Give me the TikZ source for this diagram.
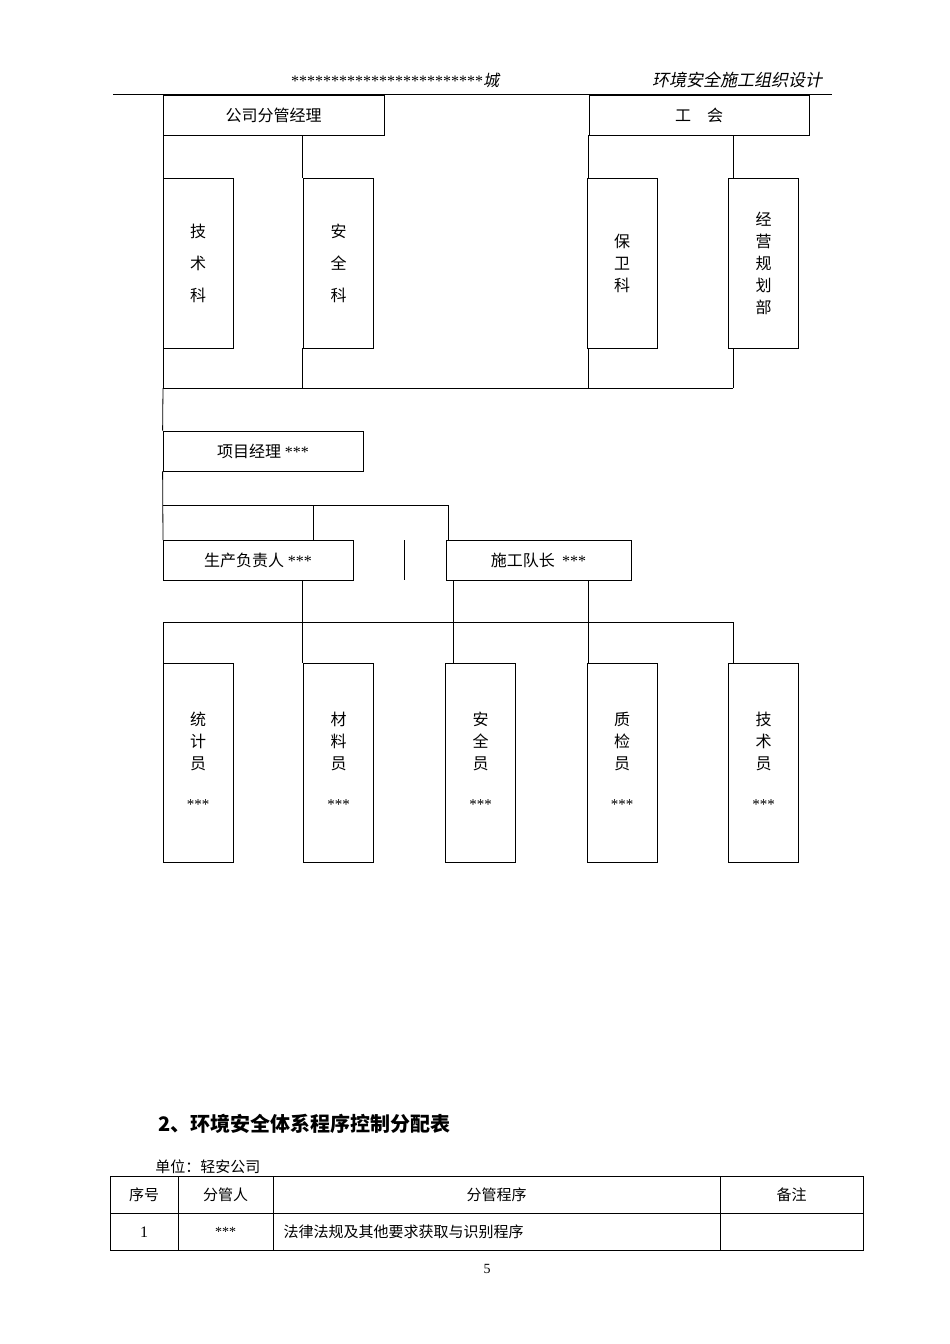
\documentclass[tikz,border=0pt]{standalone}
\usepackage{fontspec}
\setmainfont{Liberation Serif}
\newfontfamily\cjk{Noto Sans CJK SC}
\newfontfamily\cjkit{Noto Sans CJK SC}[FakeSlant=0.2]
\usetikzlibrary{positioning}
\tikzstyle{unit} = [draw,thick,inner sep=0pt,font=\cjk\fontsize{16}{22}\selectfont]
\tikzstyle{link} = [draw,thick]
\begin{document}
\begin{tikzpicture}[x=1pt,y=-1pt,line width=0.8pt]
\useasboundingbox (0,0) rectangle (950,1344);
% header
\node (stars) at (395,80) {\fontsize{16}{18}\selectfont ************************\cjkit 城};
\node (doc) at (737,80) {\cjkit\fontsize{17}{20}\selectfont 环境安全施工组织设计};
\coordinate (hl) at (113,94); \coordinate (hr) at (832,94);
\draw (hl) -- (hr);
% top level
\node[unit,minimum width=221,minimum height=40] (boss) at (273.5,115) {公司分管经理};
\node[unit,minimum width=220,minimum height=40] (union) at (699,115) {工\quad 会};
\foreach \name/\x/\txt in {tech/198/{技\\[10pt]术\\[10pt]科}, safe/338.5/{安\\[10pt]全\\[10pt]科},
                           guard/622/{保\\卫\\科}, plan/763.5/{经\\营\\规\\划\\部}}{
  \node[unit,minimum width=70,minimum height=170,align=center] (\name) at (\x,263) {\txt};
}
\foreach \x in {163,302,588,733}{
  \coordinate (a\x) at (\x,135); \coordinate (b\x) at (\x,178);
  \coordinate (c\x) at (\x,348); \coordinate (d\x) at (\x,388);
  \draw (a\x) -- (b\x); \draw (c\x) -- (d\x);
}
\draw (d163) -- (d733);
% project manager
\node[unit,minimum width=200,minimum height=40] (pm) at (263,451) {项目经理 {\rmfamily ***}};
\draw (d163) -- (pm.north west);
\coordinate (e163) at (163,505); \coordinate (e313) at (313,505); \coordinate (e448) at (448,505);
\draw (pm.south west) -- (163,540);
\draw (e163) -- (e448) -- (448,540);
\draw (e313) -- (313,540);
\node[unit,minimum width=190,minimum height=40] (prod) at (258,560) {生产负责人 {\rmfamily ***}};
\node[unit,minimum width=185,minimum height=40] (team) at (538.5,560) {施工队长\ \ {\rmfamily ***}};
\coordinate (s1) at (404,540); \coordinate (s2) at (404,580);
\draw (s1) -- (s2);
% staff
\foreach \x in {163,302,453,588,733}{
  \coordinate (f\x) at (\x,622); \coordinate (g\x) at (\x,663);
  \draw (f\x) -- (g\x);
}
\draw (302,580) -- (f302);
\draw (453,580) -- (f453);
\draw (588,580) -- (f588);
\draw (f163) -- (f733);
\foreach \name/\x/\txt in {stat/198/{统\\计\\员}, mat/338.5/{材\\料\\员}, sec/480.5/{安\\全\\员},
                           qual/622/{质\\检\\员}, eng/763.5/{技\\术\\员}}{
  \node[unit,minimum width=70,minimum height=199] (\name) at (\x,762.5) {};
  \node[font=\cjk\fontsize{16}{22}\selectfont,align=center,anchor=north] at (\x,708) {\txt};
  \node[font=\fontsize{15}{18}\selectfont] at (\x,805) {***};
}
% table
\node[anchor=west,font=\cjk\bfseries\fontsize{20}{24}\selectfont] (title) at (155,1124) {2、环境安全体系程序控制分配表};
\node[anchor=west,font=\cjk\fontsize{15}{18}\selectfont,inner sep=0pt] (unitname) at (155,1167) {单位：轻安公司};
\draw (110,1176) rectangle (863,1250);
\draw (110,1213) -- (863,1213);
\foreach \x in {178,273,720} \draw (\x,1176) -- (\x,1250);
\begin{scope}[every node/.style={font=\cjk\fontsize{15}{18}\selectfont}]
\node at (144,1195) {序号}; \node at (225.5,1195) {分管人};
\node at (496.5,1195) {分管程序}; \node at (791.5,1195) {备注};
\node[font=\fontsize{16}{18}\selectfont] at (144,1232) {1};
\node[font=\fontsize{14}{18}\selectfont] at (225.5,1232) {***};
\node[anchor=west] at (280,1232) {法律法规及其他要求获取与识别程序};
\end{scope}
\node[font=\fontsize{14}{16}\selectfont] (page) at (487,1269) {5};
\end{tikzpicture}
\end{document}
